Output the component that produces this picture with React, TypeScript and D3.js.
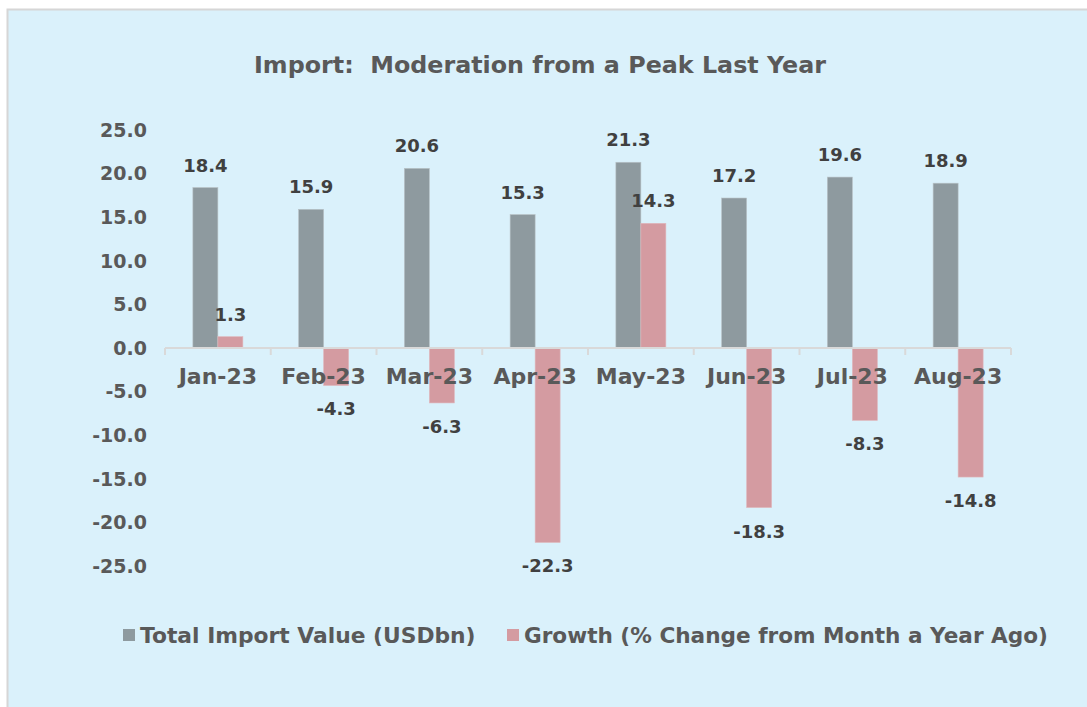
import React from "react";
import * as d3 from "d3";

const categories = ["Jan-23", "Feb-23", "Mar-23", "Apr-23", "May-23", "Jun-23", "Jul-23", "Aug-23"];
const importValue = [18.4, 15.9, 20.6, 15.3, 21.3, 17.2, 19.6, 18.9];
const growth = [1.3, -4.3, -6.3, -22.3, 14.3, -18.3, -8.3, -14.8];
const yTicks = [25, 20, 15, 10, 5, 0, -5, -10, -15, -20, -25];
const seriesNames = ["Total Import Value (USDbn)", "Growth (% Change from Month a Year Ago)"];
const title = "Import:  Moderation from a Peak Last Year";

const W = 1087;
const H = 707;
const FONT = "'DejaVu Sans', Verdana, sans-serif";
const GREY = "#8e9a9f";
const PINK = "#d49ba1";
const TXT = "#595959";
const LBL = "#404040";

const fmt = (v: number) => d3.format(".1f")(v).replace("\u2212", "-");

export default function App() {
  const x = d3.scaleBand<string>().domain(categories).range([165, 1011]).paddingInner(0).paddingOuter(0);
  const y = d3.scaleLinear().domain([-25, 25]).range([566, 130]);
  const bw = 25;
  const y0 = y(0);

  return (
    <svg width={W} height={H} style={{ position: "absolute", left: 0, top: 0 }} fontFamily={FONT}>
      <rect x={7.5} y={9.5} width={W + 10} height={H + 10} fill="#daf1fb" stroke="#d6d6d6" strokeWidth={2} />
      <text x={540} y={73} textAnchor="middle" fontSize={23.8} fontWeight="bold" fill={TXT} style={{ whiteSpace: "pre" }}>{title}</text>

      {yTicks.map((t) => (
        <text key={t} x={147} y={y(t) + 6.8} textAnchor="end" fontSize={19} fontWeight="bold" fill={TXT}>{fmt(t)}</text>
      ))}

      {categories.map((c, i) => {
        const cx = (x(c) as number) + x.bandwidth() / 2;
        const v = importValue[i];
        const g = growth[i];
        return (
          <g key={c}>
            <rect x={cx - bw} y={y(v)} width={bw} height={y0 - y(v)} fill={GREY} stroke="#b8c2c6" strokeWidth={0.6} />
            <rect x={cx} y={Math.min(y(g), y0)} width={bw} height={Math.abs(y(g) - y0)} fill={PINK} stroke="#e0b8bc" strokeWidth={0.6} />
          </g>
        );
      })}

      <line x1={165} x2={1011} y1={y0} y2={y0} stroke="#d9d9d9" strokeWidth={2} />
      {d3.range(categories.length + 1).map((i) => {
        const tx = 165 + i * x.bandwidth();
        return <line key={i} x1={tx} x2={tx} y1={y0} y2={y0 + 7} stroke="#d9d9d9" strokeWidth={2} />;
      })}

      {categories.map((c) => {
        const cx = (x(c) as number) + x.bandwidth() / 2;
        return (
          <text key={c} x={cx} y={y0 + 36} textAnchor="middle" fontSize={22} fontWeight="bold" fill={TXT}>{c}</text>
        );
      })}

      {categories.map((c, i) => {
        const cx = (x(c) as number) + x.bandwidth() / 2;
        const v = importValue[i];
        const g = growth[i];
        const gy = g >= 0 ? y(g) - 16 : y(g) + 30;
        return (
          <g key={c}>
            <text x={cx - bw / 2} y={y(v) - 16} textAnchor="middle" fontSize={18} fontWeight="bold" fill={LBL}>{fmt(v)}</text>
            <text x={cx + bw / 2} y={gy} textAnchor="middle" fontSize={18} fontWeight="bold" fill={LBL}>{fmt(g)}</text>
          </g>
        );
      })}

      <rect x={123} y={629} width={12} height={12} fill={GREY} />
      <text x={140} y={643} fontSize={21.8} fontWeight="bold" fill={TXT}>{seriesNames[0]}</text>
      <rect x={507} y={629} width={12} height={12} fill={PINK} />
      <text x={524} y={643} fontSize={21.6} fontWeight="bold" fill={TXT}>{seriesNames[1]}</text>
    </svg>
  );
}
